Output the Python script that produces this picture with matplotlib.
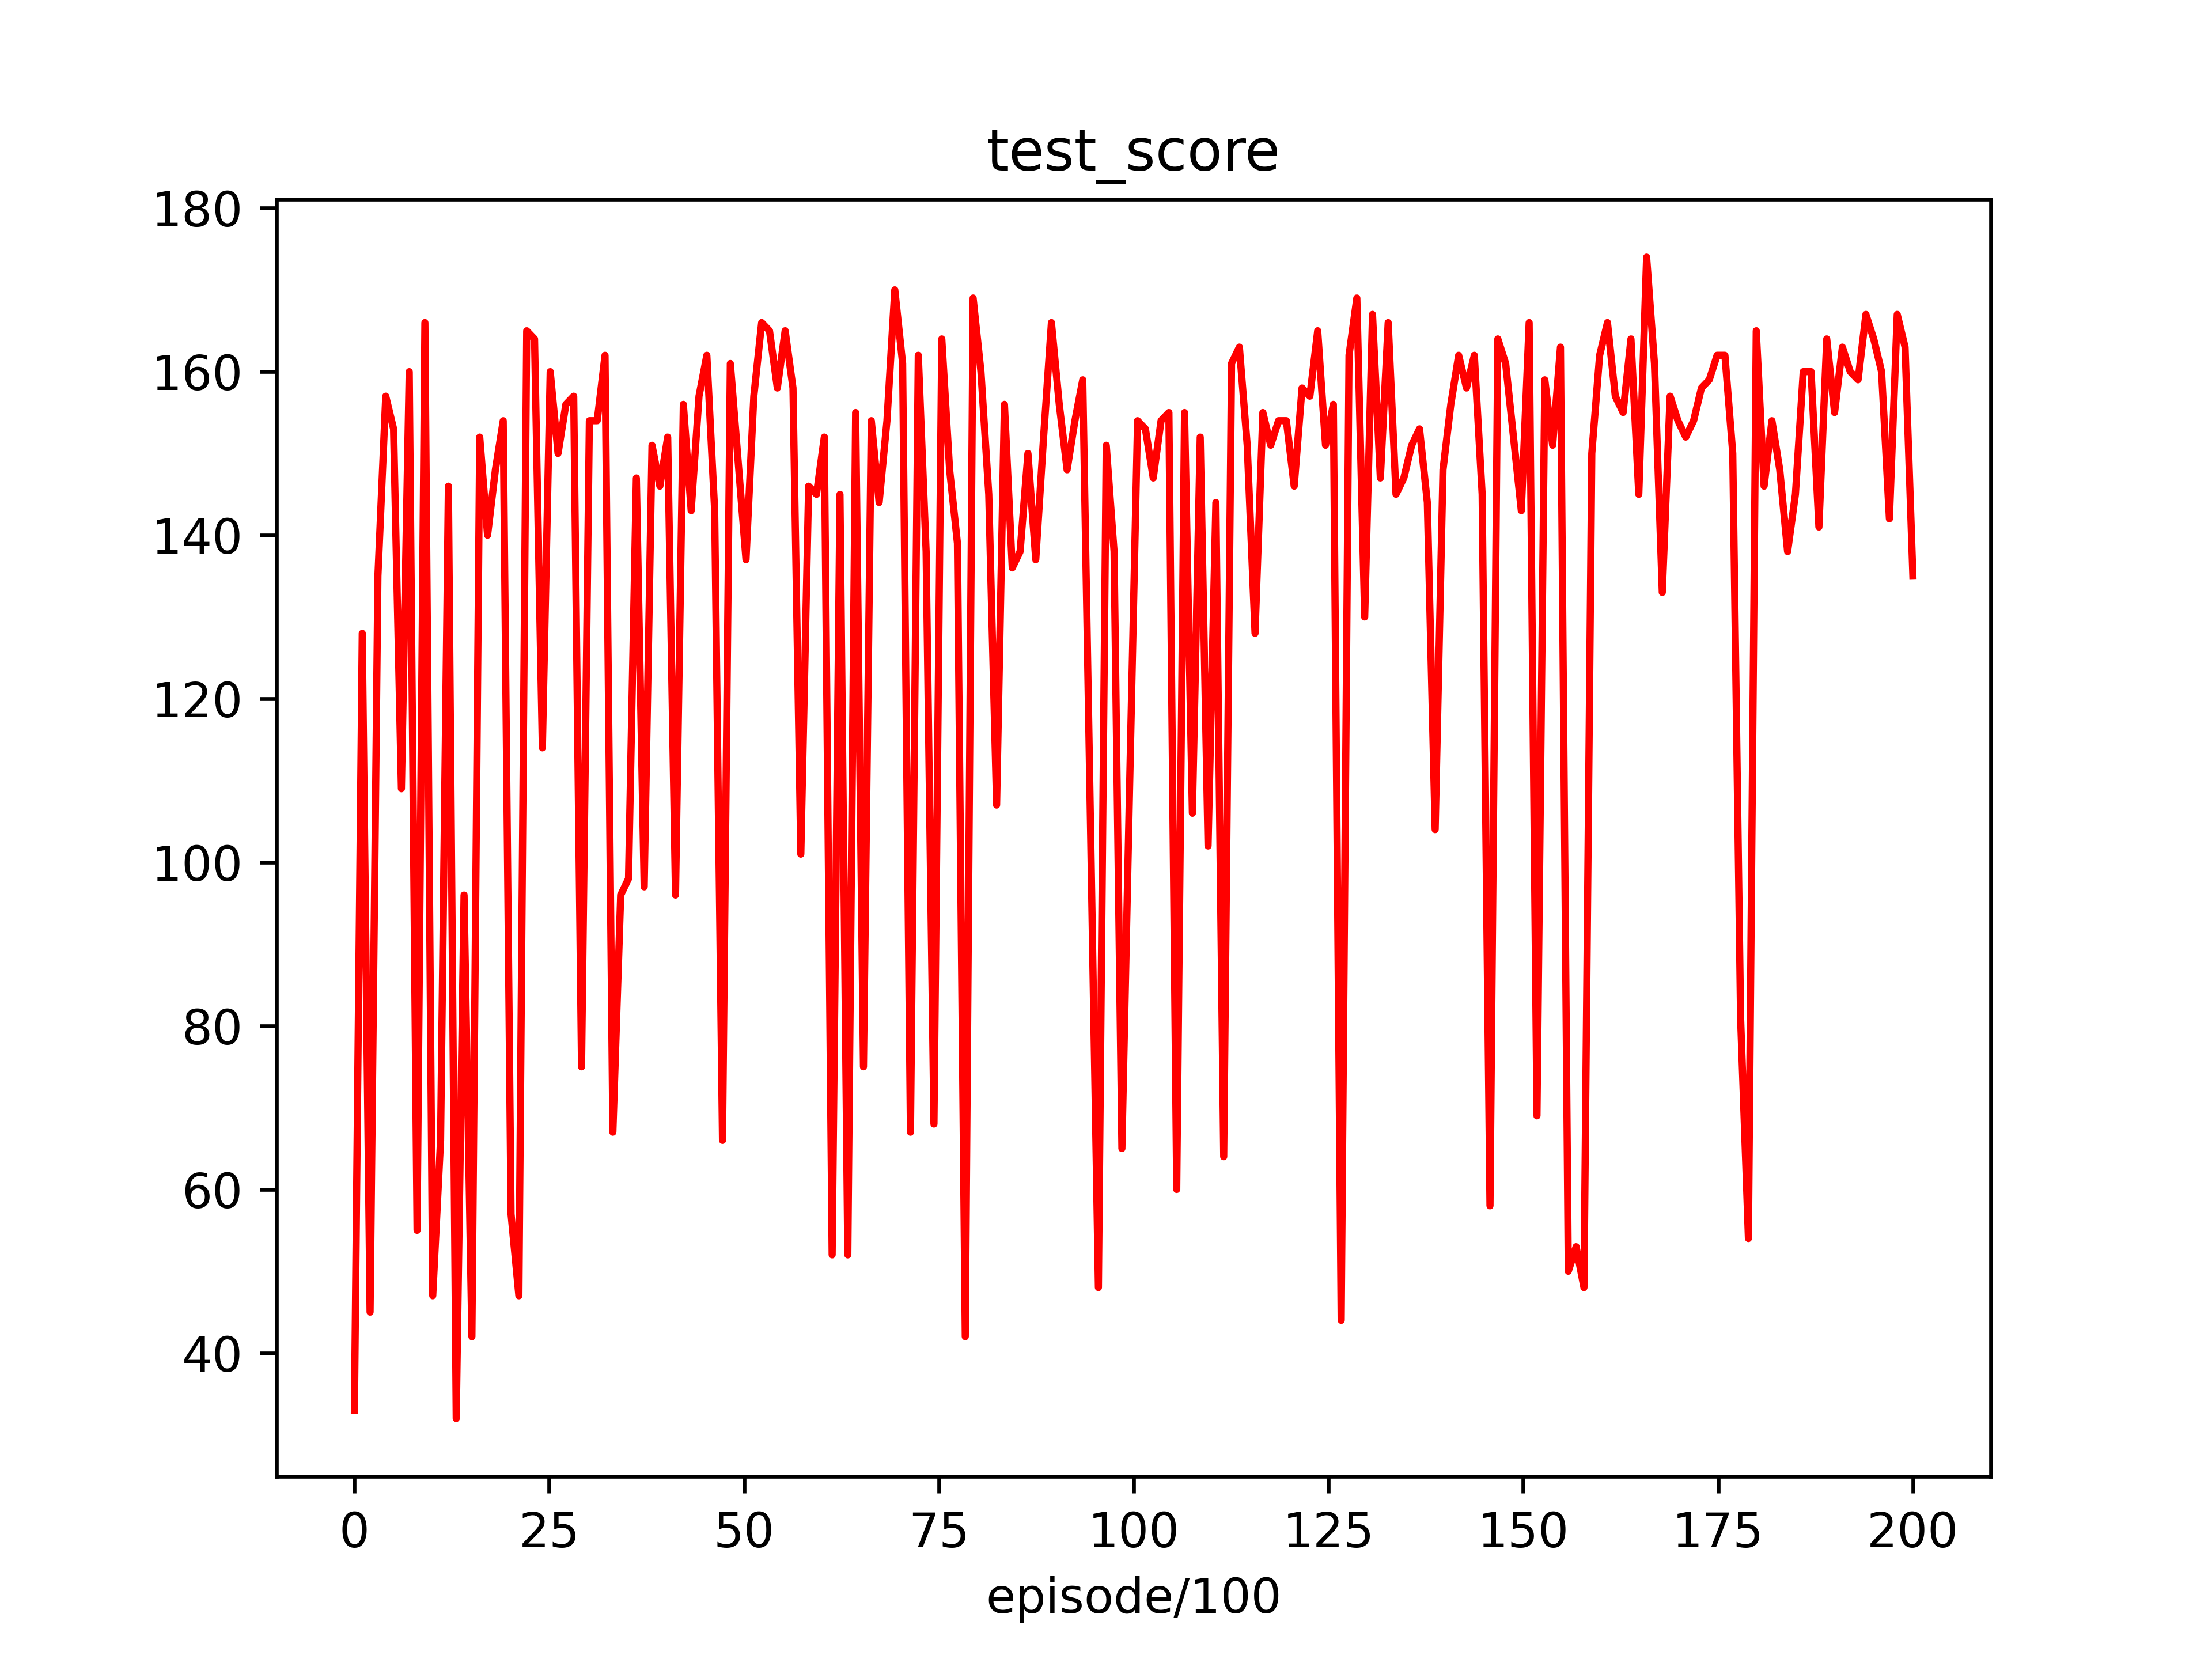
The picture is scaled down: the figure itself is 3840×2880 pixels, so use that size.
import numpy as np
import matplotlib
matplotlib.use("Agg")
import matplotlib.pyplot as plt

test_score = [
    33, 128, 45, 135, 157, 153, 109, 160, 55, 166,
    47, 66, 146, 32, 96, 42, 152, 140, 148, 154,
    57, 47, 165, 164, 114, 160, 150, 156, 157, 75,
    154, 154, 162, 67, 96, 98, 147, 97, 151, 146,
    152, 96, 156, 143, 157, 162, 143, 66, 161, 149,
    137, 157, 166, 165, 158, 165, 158, 101, 146, 145,
    152, 52, 145, 52, 155, 75, 154, 144, 154, 170,
    161, 67, 162, 138, 68, 164, 148, 139, 42, 169,
    160, 145, 107, 156, 136, 138, 150, 137, 152, 166,
    156, 148, 154, 159, 104, 48, 151, 138, 65, 110,
    154, 153, 147, 154, 155, 60, 155, 106, 152, 102,
    144, 64, 161, 163, 151, 128, 155, 151, 154, 154,
    146, 158, 157, 165, 151, 156, 44, 162, 169, 130,
    167, 147, 166, 145, 147, 151, 153, 144, 104, 148,
    156, 162, 158, 162, 145, 58, 164, 161, 152, 143,
    166, 69, 159, 151, 163, 50, 53, 48, 150, 162,
    166, 157, 155, 164, 145, 174, 161, 133, 157, 154,
    152, 154, 158, 159, 162, 162, 150, 81, 54, 165,
    146, 154, 148, 138, 145, 160, 160, 141, 164, 155,
    163, 160, 159, 167, 164, 160, 142, 167, 163, 135,
]
episodes = np.linspace(0, 200, len(test_score))

fig, ax = plt.subplots(figsize=(6.4, 4.8), dpi=600)
ax.plot(episodes, test_score, color="red")
ax.set_title("test_score")
ax.set_xlabel("episode/100")
fig.savefig("out.png", dpi=600)
